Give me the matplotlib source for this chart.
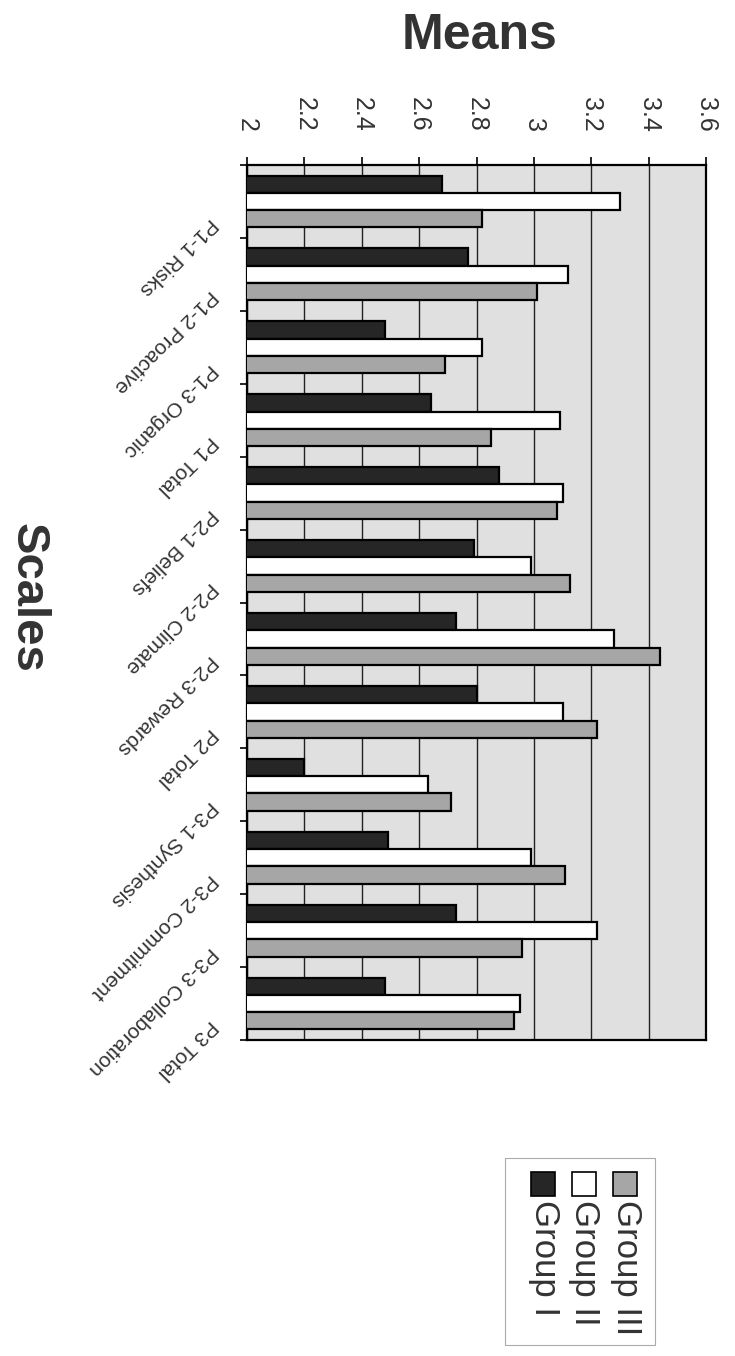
import numpy as np
import matplotlib
matplotlib.use("Agg")
import matplotlib.pyplot as plt
from matplotlib.patches import Rectangle
from matplotlib.transforms import blended_transform_factory

plt.rcParams['font.family'] = ['Liberation Sans', 'DejaVu Sans']

scales = ["P1-1 Risks", "P1-2 Proactive", "P1-3 Organic", "P1 Total",
          "P2-1 Beliefs", "P2-2 Climate", "P2-3 Rewards", "P2 Total",
          "P3-1 Synthesis", "P3-2 Commitment", "P3-3 Collaboration", "P3 Total"]
group_names = ["Group I", "Group II", "Group III"]
group1 = [2.68, 2.77, 2.48, 2.64, 2.88, 2.79, 2.73, 2.80, 2.20, 2.49, 2.73, 2.48]
group2 = [3.30, 3.12, 2.82, 3.09, 3.10, 2.99, 3.28, 3.10, 2.63, 2.99, 3.22, 2.95]
group3 = [2.82, 3.01, 2.69, 2.85, 3.08, 3.125, 3.44, 3.22, 2.71, 3.11, 2.96, 2.93]
mean_ticks = [2, 2.2, 2.4, 2.6, 2.8, 3, 3.2, 3.4, 3.6]

colors = ["#262626", "#ffffff", "#a6a6a6"]
text_col = "#333333"

W, H = 735, 1356
fig = plt.figure(figsize=(W / 100, H / 100), dpi=100)
fig.patch.set_facecolor("white")


def fpos(x, y):
    # pixel position -> figure fraction
    return x / W, 1 - y / H


ax = fig.add_axes([247 / W, 1 - 1040 / H, 459 / W, 875 / H])
ax.set_facecolor("#e0e0e0")

pos = np.arange(len(scales))
bh = 0.237
for k, vals in enumerate([group1, group2, group3]):
    ax.barh(pos + (k - 1) * bh, vals, height=bh, color=colors[k],
            edgecolor="black", linewidth=1.6, zorder=3)

ax.set_xlim(2, 3.6)
ax.set_ylim(len(scales) - 0.5, -0.5)

# value axis along the top, labels turned on their side
ax.xaxis.tick_top()
ax.set_xticks(mean_ticks)
ax.set_xticklabels([f"{t:g}" for t in mean_ticks], rotation=-90,
                   fontsize=18, color=text_col)
ax.tick_params(axis="x", direction="out", length=6, width=1.2, pad=18)
ax.grid(axis="x", color="#222222", linewidth=1.0)
ax.set_axisbelow(True)

# category boundaries get tick marks, names drawn separately
ax.set_yticks(np.arange(-0.5, len(scales), 1.0))
ax.set_yticklabels([])
ax.tick_params(axis="y", direction="out", length=5, width=1.2)

for s in ax.spines.values():
    s.set_linewidth(1.6)
    s.set_color("black")

trans = blended_transform_factory(ax.transAxes, ax.transData)
for i, name in enumerate(scales):
    ax.text(-0.072, i + 0.26, name, transform=trans, rotation=225,
            rotation_mode="anchor", ha="left", va="center",
            fontsize=15, color=text_col)

fig.text(*fpos(480, 49), "Means", ha="center", va="baseline",
         fontsize=36, fontweight="bold", color=text_col)
fig.text(*fpos(28, 598), "Scales", ha="center", va="center", rotation=-90,
         fontsize=34, fontweight="bold", color=text_col)

# legend box with sideways entries
fig.add_artist(Rectangle(fpos(505, 1345), 150 / W, 187 / H,
                         transform=fig.transFigure, facecolor="white",
                         edgecolor="#aaaaaa", linewidth=0.8))
for k, name in enumerate(group_names):
    xc = 543 + k * 41
    x0, y0 = fpos(xc - 12, 1196)
    fig.add_artist(Rectangle((x0, y0), 24 / W, 24 / H,
                             transform=fig.transFigure, facecolor=colors[k],
                             edgecolor="black", linewidth=1.2))
    fig.text(*fpos(xc + 1, 1200), name, rotation=-90, ha="center", va="top",
             fontsize=25, color=text_col)

fig.savefig("out.png", dpi=100)
